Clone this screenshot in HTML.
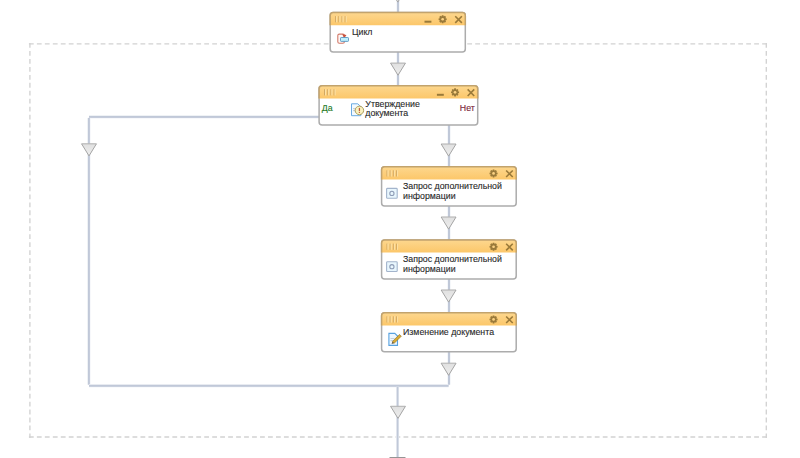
<!DOCTYPE html>
<html><head><meta charset="utf-8"><style>
html,body{margin:0;padding:0;background:#fff;width:800px;height:458px;overflow:hidden}
svg{display:block;font-family:"Liberation Sans",sans-serif}
</style></head><body>
<svg width="800" height="458" viewBox="0 0 800 458">
<defs>
<linearGradient id="hg" x1="0" y1="0" x2="0" y2="1"><stop offset="0" stop-color="#fdd78e"/><stop offset="1" stop-color="#fcc76a"/></linearGradient>
<linearGradient id="tg" x1="0" y1="0" x2="0" y2="1"><stop offset="0" stop-color="#e0e0e0"/><stop offset="1" stop-color="#eeeeee"/></linearGradient>
</defs>
<path d="M28.9,43.9 L767,43.9" stroke="#d2d2d2" stroke-width="1.35" stroke-dasharray="4.8 3.17" fill="none"/>
<path d="M28.9,437.0 L767,437.0" stroke="#d2d2d2" stroke-width="1.35" stroke-dasharray="4.8 3.17" fill="none"/>
<path d="M29.9,43.0 L29.9,438" stroke="#d2d2d2" stroke-width="1.35" stroke-dasharray="4.8 3.17" fill="none"/>
<path d="M766.3,43.0 L766.3,438" stroke="#d2d2d2" stroke-width="1.35" stroke-dasharray="4.8 3.17" fill="none"/>
<rect x="396.40" y="-2.00" width="3.2" height="15.00" fill="#eff2f7"/><rect x="397.00" y="-2.00" width="2" height="15.00" fill="#c0c8d8"/>
<path d="M390.35,-10.00 L405.25,-10.00 L397.80,2.10 Z" fill="url(#tg)"/><path d="M390.35,-10.00 L405.25,-10.00" stroke="#b4b4b4" stroke-width="1.1"/><path d="M390.35,-10.00 L397.80,2.10 L405.25,-10.00" fill="none" stroke="#a4a4a4" stroke-width="1" stroke-linejoin="miter"/>
<rect x="396.40" y="52.00" width="3.2" height="34.00" fill="#eff2f7"/><rect x="397.00" y="52.00" width="2" height="34.00" fill="#c0c8d8"/>
<path d="M390.55,63.10 L405.45,63.10 L398.00,75.20 Z" fill="url(#tg)"/><path d="M390.55,63.10 L405.45,63.10" stroke="#b4b4b4" stroke-width="1.1"/><path d="M390.55,63.10 L398.00,75.20 L405.45,63.10" fill="none" stroke="#a4a4a4" stroke-width="1" stroke-linejoin="miter"/>
<rect x="89.00" y="115.30" width="231.00" height="3.2" fill="#eff2f7"/><rect x="89.00" y="115.90" width="231.00" height="2" fill="#c0c8d8"/>
<rect x="87.30" y="117.90" width="3.2" height="266.80" fill="#eff2f7"/><rect x="87.90" y="117.90" width="2" height="266.80" fill="#c0c8d8"/>
<path d="M81.55,143.80 L96.45,143.80 L89.00,155.90 Z" fill="url(#tg)"/><path d="M81.55,143.80 L96.45,143.80" stroke="#b4b4b4" stroke-width="1.1"/><path d="M81.55,143.80 L89.00,155.90 L96.45,143.80" fill="none" stroke="#a4a4a4" stroke-width="1" stroke-linejoin="miter"/>
<rect x="89.00" y="384.20" width="359.60" height="3.2" fill="#eff2f7"/><rect x="89.00" y="384.80" width="359.60" height="2" fill="#c0c8d8"/>
<rect x="447.40" y="125.00" width="3.2" height="42.00" fill="#eff2f7"/><rect x="448.00" y="125.00" width="2" height="42.00" fill="#c0c8d8"/>
<path d="M441.15,144.00 L456.05,144.00 L448.60,156.10 Z" fill="url(#tg)"/><path d="M441.15,144.00 L456.05,144.00" stroke="#b4b4b4" stroke-width="1.1"/><path d="M441.15,144.00 L448.60,156.10 L456.05,144.00" fill="none" stroke="#a4a4a4" stroke-width="1" stroke-linejoin="miter"/>
<rect x="447.40" y="206.00" width="3.2" height="35.00" fill="#eff2f7"/><rect x="448.00" y="206.00" width="2" height="35.00" fill="#c0c8d8"/>
<path d="M441.15,217.00 L456.05,217.00 L448.60,229.10 Z" fill="url(#tg)"/><path d="M441.15,217.00 L456.05,217.00" stroke="#b4b4b4" stroke-width="1.1"/><path d="M441.15,217.00 L448.60,229.10 L456.05,217.00" fill="none" stroke="#a4a4a4" stroke-width="1" stroke-linejoin="miter"/>
<rect x="447.40" y="279.00" width="3.2" height="34.00" fill="#eff2f7"/><rect x="448.00" y="279.00" width="2" height="34.00" fill="#c0c8d8"/>
<path d="M441.15,290.00 L456.05,290.00 L448.60,302.10 Z" fill="url(#tg)"/><path d="M441.15,290.00 L456.05,290.00" stroke="#b4b4b4" stroke-width="1.1"/><path d="M441.15,290.00 L448.60,302.10 L456.05,290.00" fill="none" stroke="#a4a4a4" stroke-width="1" stroke-linejoin="miter"/>
<rect x="447.40" y="352.00" width="3.2" height="32.70" fill="#eff2f7"/><rect x="448.00" y="352.00" width="2" height="32.70" fill="#c0c8d8"/>
<path d="M441.15,363.20 L456.05,363.20 L448.60,375.30 Z" fill="url(#tg)"/><path d="M441.15,363.20 L456.05,363.20" stroke="#b4b4b4" stroke-width="1.1"/><path d="M441.15,363.20 L448.60,375.30 L456.05,363.20" fill="none" stroke="#a4a4a4" stroke-width="1" stroke-linejoin="miter"/>
<rect x="396.10" y="386.80" width="3.0" height="71.20" fill="#eff2f7"/><rect x="396.70" y="386.80" width="1.8" height="71.20" fill="#c0c8d8"/>
<path d="M390.55,406.30 L405.45,406.30 L398.00,418.40 Z" fill="url(#tg)"/><path d="M390.55,406.30 L405.45,406.30" stroke="#b4b4b4" stroke-width="1.1"/><path d="M390.55,406.30 L398.00,418.40 L405.45,406.30" fill="none" stroke="#a4a4a4" stroke-width="1" stroke-linejoin="miter"/>
<rect x="389.5" y="457" width="16" height="1" fill="#959595"/>
<rect x="330.20" y="12.60" width="135.10" height="39.30" rx="3" ry="3" fill="#fff" stroke="#acacac" stroke-width="1.5"/>
<path d="M330.20,25.20 L330.20,15.60 Q330.20,12.60 333.20,12.60 L462.30,12.60 Q465.30,12.60 465.30,15.60 L465.30,25.20 Z" fill="url(#hg)"/>
<path d="M330.20,25.20 L330.20,15.60 Q330.20,12.60 333.20,12.60 L462.30,12.60 Q465.30,12.60 465.30,15.60 L465.30,25.20" fill="none" stroke="#c2a36d" stroke-width="1.5"/>
<rect x="335.10" y="16.10" width="1" height="6.2" fill="#d2a862"/>
<rect x="336.10" y="16.10" width="1" height="6.2" fill="#fde2a6"/>
<rect x="338.30" y="16.10" width="1" height="6.2" fill="#d2a862"/>
<rect x="339.30" y="16.10" width="1" height="6.2" fill="#fde2a6"/>
<rect x="341.50" y="16.10" width="1" height="6.2" fill="#d2a862"/>
<rect x="342.50" y="16.10" width="1" height="6.2" fill="#fde2a6"/>
<rect x="344.70" y="16.10" width="1" height="6.2" fill="#d2a862"/>
<rect x="345.70" y="16.10" width="1" height="6.2" fill="#fde2a6"/>
<polygon points="441.51,16.62 441.88,15.22 443.42,15.22 443.79,16.62 443.71,16.58 444.95,15.86 446.04,16.95 445.32,18.19 445.28,18.11 446.68,18.48 446.68,20.02 445.28,20.39 445.32,20.31 446.04,21.55 444.95,22.64 443.71,21.92 443.79,21.88 443.42,23.28 441.88,23.28 441.51,21.88 441.59,21.92 440.35,22.64 439.26,21.55 439.98,20.31 440.02,20.39 438.62,20.02 438.62,18.48 440.02,18.11 439.98,18.19 439.26,16.95 440.35,15.86 441.59,16.58" fill="#9a7a3a"/><circle cx="442.65" cy="19.25" r="1.35" fill="#fcd283"/>
<path d="M455.25,16.25 L461.85,22.85 M461.85,16.25 L455.25,22.85" stroke="#9a7a3a" stroke-width="1.6" fill="none"/>
<rect x="424.50" y="20.70" width="6.90" height="2" fill="#9a7a3a"/>
<rect x="319.10" y="85.70" width="158.60" height="39.20" rx="3" ry="3" fill="#fff" stroke="#acacac" stroke-width="1.5"/>
<path d="M319.10,98.50 L319.10,88.70 Q319.10,85.70 322.10,85.70 L474.70,85.70 Q477.70,85.70 477.70,88.70 L477.70,98.50 Z" fill="url(#hg)"/>
<path d="M319.10,98.50 L319.10,88.70 Q319.10,85.70 322.10,85.70 L474.70,85.70 Q477.70,85.70 477.70,88.70 L477.70,98.50" fill="none" stroke="#c2a36d" stroke-width="1.5"/>
<rect x="324.00" y="89.20" width="1" height="6.2" fill="#d2a862"/>
<rect x="325.00" y="89.20" width="1" height="6.2" fill="#fde2a6"/>
<rect x="327.20" y="89.20" width="1" height="6.2" fill="#d2a862"/>
<rect x="328.20" y="89.20" width="1" height="6.2" fill="#fde2a6"/>
<rect x="330.40" y="89.20" width="1" height="6.2" fill="#d2a862"/>
<rect x="331.40" y="89.20" width="1" height="6.2" fill="#fde2a6"/>
<rect x="333.60" y="89.20" width="1" height="6.2" fill="#d2a862"/>
<rect x="334.60" y="89.20" width="1" height="6.2" fill="#fde2a6"/>
<polygon points="453.91,89.72 454.28,88.32 455.82,88.32 456.19,89.72 456.11,89.68 457.35,88.96 458.44,90.05 457.72,91.29 457.68,91.21 459.08,91.58 459.08,93.12 457.68,93.49 457.72,93.41 458.44,94.65 457.35,95.74 456.11,95.02 456.19,94.98 455.82,96.38 454.28,96.38 453.91,94.98 453.99,95.02 452.75,95.74 451.66,94.65 452.38,93.41 452.42,93.49 451.02,93.12 451.02,91.58 452.42,91.21 452.38,91.29 451.66,90.05 452.75,88.96 453.99,89.68" fill="#9a7a3a"/><circle cx="455.05" cy="92.35" r="1.35" fill="#fcd283"/>
<path d="M467.65,89.35 L474.25,95.95 M474.25,89.35 L467.65,95.95" stroke="#9a7a3a" stroke-width="1.6" fill="none"/>
<rect x="436.90" y="93.80" width="6.90" height="2" fill="#9a7a3a"/>
<rect x="381.60" y="166.80" width="134.60" height="39.10" rx="3" ry="3" fill="#fff" stroke="#acacac" stroke-width="1.5"/>
<path d="M381.60,179.40 L381.60,169.80 Q381.60,166.80 384.60,166.80 L513.20,166.80 Q516.20,166.80 516.20,169.80 L516.20,179.40 Z" fill="url(#hg)"/>
<path d="M381.60,179.40 L381.60,169.80 Q381.60,166.80 384.60,166.80 L513.20,166.80 Q516.20,166.80 516.20,169.80 L516.20,179.40" fill="none" stroke="#c2a36d" stroke-width="1.5"/>
<rect x="386.50" y="170.30" width="1" height="6.2" fill="#d2a862"/>
<rect x="387.50" y="170.30" width="1" height="6.2" fill="#fde2a6"/>
<rect x="389.70" y="170.30" width="1" height="6.2" fill="#d2a862"/>
<rect x="390.70" y="170.30" width="1" height="6.2" fill="#fde2a6"/>
<rect x="392.90" y="170.30" width="1" height="6.2" fill="#d2a862"/>
<rect x="393.90" y="170.30" width="1" height="6.2" fill="#fde2a6"/>
<rect x="396.10" y="170.30" width="1" height="6.2" fill="#d2a862"/>
<rect x="397.10" y="170.30" width="1" height="6.2" fill="#fde2a6"/>
<polygon points="492.41,170.82 492.78,169.42 494.32,169.42 494.69,170.82 494.61,170.78 495.85,170.06 496.94,171.15 496.22,172.39 496.18,172.31 497.58,172.68 497.58,174.22 496.18,174.59 496.22,174.51 496.94,175.75 495.85,176.84 494.61,176.12 494.69,176.08 494.32,177.48 492.78,177.48 492.41,176.08 492.49,176.12 491.25,176.84 490.16,175.75 490.88,174.51 490.92,174.59 489.52,174.22 489.52,172.68 490.92,172.31 490.88,172.39 490.16,171.15 491.25,170.06 492.49,170.78" fill="#9a7a3a"/><circle cx="493.55" cy="173.45" r="1.35" fill="#fcd283"/>
<path d="M506.15,170.45 L512.75,177.05 M512.75,170.45 L506.15,177.05" stroke="#9a7a3a" stroke-width="1.6" fill="none"/>
<rect x="381.60" y="240.10" width="134.60" height="38.80" rx="3" ry="3" fill="#fff" stroke="#acacac" stroke-width="1.5"/>
<path d="M381.60,252.60 L381.60,243.10 Q381.60,240.10 384.60,240.10 L513.20,240.10 Q516.20,240.10 516.20,243.10 L516.20,252.60 Z" fill="url(#hg)"/>
<path d="M381.60,252.60 L381.60,243.10 Q381.60,240.10 384.60,240.10 L513.20,240.10 Q516.20,240.10 516.20,243.10 L516.20,252.60" fill="none" stroke="#c2a36d" stroke-width="1.5"/>
<rect x="386.50" y="243.60" width="1" height="6.2" fill="#d2a862"/>
<rect x="387.50" y="243.60" width="1" height="6.2" fill="#fde2a6"/>
<rect x="389.70" y="243.60" width="1" height="6.2" fill="#d2a862"/>
<rect x="390.70" y="243.60" width="1" height="6.2" fill="#fde2a6"/>
<rect x="392.90" y="243.60" width="1" height="6.2" fill="#d2a862"/>
<rect x="393.90" y="243.60" width="1" height="6.2" fill="#fde2a6"/>
<rect x="396.10" y="243.60" width="1" height="6.2" fill="#d2a862"/>
<rect x="397.10" y="243.60" width="1" height="6.2" fill="#fde2a6"/>
<polygon points="492.41,244.12 492.78,242.72 494.32,242.72 494.69,244.12 494.61,244.08 495.85,243.36 496.94,244.45 496.22,245.69 496.18,245.61 497.58,245.98 497.58,247.52 496.18,247.89 496.22,247.81 496.94,249.05 495.85,250.14 494.61,249.42 494.69,249.38 494.32,250.78 492.78,250.78 492.41,249.38 492.49,249.42 491.25,250.14 490.16,249.05 490.88,247.81 490.92,247.89 489.52,247.52 489.52,245.98 490.92,245.61 490.88,245.69 490.16,244.45 491.25,243.36 492.49,244.08" fill="#9a7a3a"/><circle cx="493.55" cy="246.75" r="1.35" fill="#fcd283"/>
<path d="M506.15,243.75 L512.75,250.35 M512.75,243.75 L506.15,250.35" stroke="#9a7a3a" stroke-width="1.6" fill="none"/>
<rect x="381.60" y="312.80" width="134.60" height="39.00" rx="3" ry="3" fill="#fff" stroke="#acacac" stroke-width="1.5"/>
<path d="M381.60,325.50 L381.60,315.80 Q381.60,312.80 384.60,312.80 L513.20,312.80 Q516.20,312.80 516.20,315.80 L516.20,325.50 Z" fill="url(#hg)"/>
<path d="M381.60,325.50 L381.60,315.80 Q381.60,312.80 384.60,312.80 L513.20,312.80 Q516.20,312.80 516.20,315.80 L516.20,325.50" fill="none" stroke="#c2a36d" stroke-width="1.5"/>
<rect x="386.50" y="316.30" width="1" height="6.2" fill="#d2a862"/>
<rect x="387.50" y="316.30" width="1" height="6.2" fill="#fde2a6"/>
<rect x="389.70" y="316.30" width="1" height="6.2" fill="#d2a862"/>
<rect x="390.70" y="316.30" width="1" height="6.2" fill="#fde2a6"/>
<rect x="392.90" y="316.30" width="1" height="6.2" fill="#d2a862"/>
<rect x="393.90" y="316.30" width="1" height="6.2" fill="#fde2a6"/>
<rect x="396.10" y="316.30" width="1" height="6.2" fill="#d2a862"/>
<rect x="397.10" y="316.30" width="1" height="6.2" fill="#fde2a6"/>
<polygon points="492.41,316.82 492.78,315.42 494.32,315.42 494.69,316.82 494.61,316.78 495.85,316.06 496.94,317.15 496.22,318.39 496.18,318.31 497.58,318.68 497.58,320.22 496.18,320.59 496.22,320.51 496.94,321.75 495.85,322.84 494.61,322.12 494.69,322.08 494.32,323.48 492.78,323.48 492.41,322.08 492.49,322.12 491.25,322.84 490.16,321.75 490.88,320.51 490.92,320.59 489.52,320.22 489.52,318.68 490.92,318.31 490.88,318.39 490.16,317.15 491.25,316.06 492.49,316.78" fill="#9a7a3a"/><circle cx="493.55" cy="319.45" r="1.35" fill="#fcd283"/>
<path d="M506.15,316.45 L512.75,323.05 M512.75,316.45 L506.15,323.05" stroke="#9a7a3a" stroke-width="1.6" fill="none"/>
<text x="352.00" y="34.90" fill="#2a2a2a" stroke="#2a2a2a" stroke-width="0.12" font-size="8.8">Цикл</text>
<text x="321.80" y="111.00" fill="#267a26" stroke="#267a26" stroke-width="0.12" font-size="8.8">Да</text>
<text x="459.80" y="111.00" fill="#781c38" stroke="#781c38" stroke-width="0.12" font-size="8.8">Нет</text>
<text x="365.30" y="106.50" fill="#2a2a2a" stroke="#2a2a2a" stroke-width="0.12" font-size="8.8">Утверждение</text>
<text x="365.30" y="115.80" fill="#2a2a2a" stroke="#2a2a2a" stroke-width="0.12" font-size="8.8">документа</text>
<text x="403.00" y="188.80" fill="#2a2a2a" stroke="#2a2a2a" stroke-width="0.12" font-size="8.8">Запрос дополнительной</text>
<text x="403.00" y="198.50" fill="#2a2a2a" stroke="#2a2a2a" stroke-width="0.12" font-size="8.8">информации</text>
<text x="403.00" y="261.80" fill="#2a2a2a" stroke="#2a2a2a" stroke-width="0.12" font-size="8.8">Запрос дополнительной</text>
<text x="403.00" y="271.50" fill="#2a2a2a" stroke="#2a2a2a" stroke-width="0.12" font-size="8.8">информации</text>
<text x="403.00" y="335.30" fill="#2a2a2a" stroke="#2a2a2a" stroke-width="0.12" font-size="8.8">Изменение документа</text>
<g>
<rect x="337.80" y="34.10" width="6.6" height="9.2" rx="1.5" fill="#fff8f6" stroke="#d27a6a" stroke-width="1.1"/>
<path d="M342.20,34.20 L346.50,35.00 L344.20,38.20 Z" fill="#c8503a"/>
<rect x="340.50" y="37.50" width="8.0" height="3.9" rx="0.7" fill="#bff0fc" stroke="#5a94c0" stroke-width="0.9"/>
</g>
<g>
<path d="M351.50,103.80 L357.80,103.80 L360.80,106.70 L360.80,115.70 L351.50,115.70 Z" fill="#f2f9ff" stroke="#6aaae2" stroke-width="1"/>
<rect x="353.00" y="108.30" width="4" height="0.8" fill="#b4c0cc"/>
<rect x="353.00" y="110.30" width="4" height="0.8" fill="#b4c0cc"/>
<circle cx="359.40" cy="110.40" r="4.25" fill="#faf2c0" stroke="#a89a58" stroke-width="0.95"/>
<rect x="358.80" y="107.90" width="1.25" height="3.2" fill="#c05a3c"/>
<rect x="358.80" y="111.90" width="1.25" height="1.0" fill="#c05a3c"/>
</g>
<g>
<rect x="386.60" y="188.40" width="10.6" height="9.8" rx="0.8" fill="#e8f6fd" stroke="#a3b4cc" stroke-width="1.1"/>
<circle cx="391.90" cy="193.40" r="2.1" fill="none" stroke="#8e9cb6" stroke-width="1.1"/>
</g>
<g>
<rect x="386.60" y="261.70" width="10.6" height="9.8" rx="0.8" fill="#e8f6fd" stroke="#a3b4cc" stroke-width="1.1"/>
<circle cx="391.90" cy="266.70" r="2.1" fill="none" stroke="#8e9cb6" stroke-width="1.1"/>
</g>
<g>
<path d="M388.90,333.40 L394.80,333.40 L397.50,336.00 L397.50,345.40 L388.90,345.40 Z" fill="#eef7ff" stroke="#58a2e0" stroke-width="1.1"/>
<rect x="390.50" y="338.20" width="4" height="0.8" fill="#b8c6d4"/>
<rect x="390.50" y="340.20" width="3" height="0.8" fill="#b8c6d4"/>
<path d="M392.40,341.50 L399.50,334.40 L401.30,336.20 L394.20,343.30 Z" fill="#d8aa32" stroke="#8a6a1c" stroke-width="0.6"/>
<path d="M392.40,341.50 L391.60,344.10 L394.20,343.30 Z" fill="#6a5a3a"/>
</g>
</svg>
</body></html>
